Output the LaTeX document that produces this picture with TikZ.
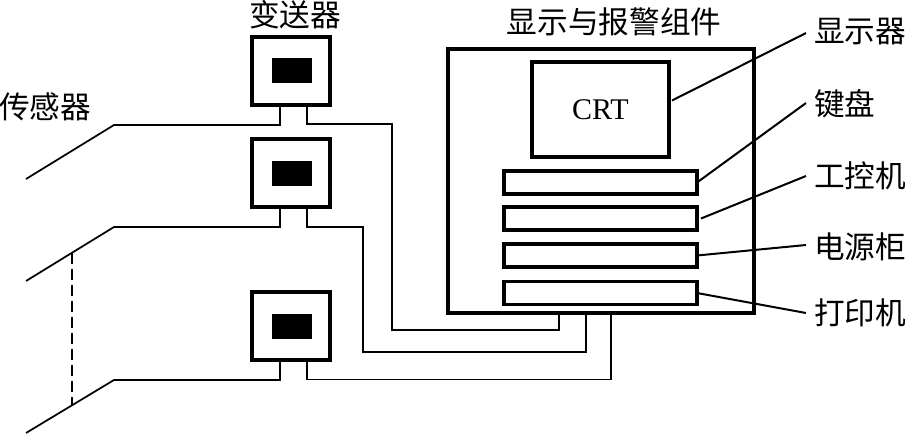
\documentclass[tikz,border=0pt]{standalone}
\usepackage{fontspec}
\setmainfont{Liberation Serif}
\newfontfamily\cjk{Noto Sans CJK SC}
\usetikzlibrary{calc}
\begin{document}
\begin{tikzpicture}[x=0.75pt,y=-0.75pt,
  wire/.style={line width=1.3pt},
  leader/.style={line width=1.5pt},
  txbox/.style={draw,line width=2.8pt,outer sep=0pt,inner sep=0pt,minimum width=58.5pt,minimum height=51pt},
  core/.style={fill=black,outer sep=0pt,inner sep=0pt,minimum width=30pt,minimum height=18.75pt},
  bigbox/.style={draw,line width=2.8pt,outer sep=0pt,inner sep=0pt,minimum width=229.5pt,minimum height=198pt},
  crtbox/.style={draw,line width=2.3pt,outer sep=0pt,inner sep=0pt,minimum width=102.75pt,minimum height=71.25pt,font=\fontsize{22.5}{27}\selectfont},
  bar/.style={draw,line width=2.6pt,outer sep=0pt,inner sep=0pt,minimum width=144.75pt,minimum height=17.25pt},
  lbl/.style={font=\cjk\fontsize{23}{27}\selectfont,inner sep=0pt},
  rlbl/.style={lbl,anchor=west,inner sep=0pt,xshift=6pt}]
\useasboundingbox (0,0) rectangle (906,435);

% transmitters
\node[txbox] (t1) at (291,71) {};
\node[txbox] (t2) at (291,173) {};
\node[txbox] (t3) at (291,326) {};
\node[core] (c1) at (292,71) {};
\node[core] (c2) at (292,173.5) {};
\node[core] (c3) at (292,326.5) {};

% display and alarm assembly
\node[bigbox] (box) at (601,181) {};
\node[crtbox] (crt) at (600.5,109.5) {CRT};
\node[bar] (b1) at (600.5,182.5) {};
\node[bar] (b2) at (600.5,218.5) {};
\node[bar] (b3) at (600.5,255.5) {};
\node[bar] (b4) at (600.5,293) {};

% titles
\node[lbl] (ttx) at (295,15) {变送器};
\node[lbl] (tbox) at (614,22) {显示与报警组件};
\node[lbl] (tsen) at (45,107) {传感器};

% right labels
\node[rlbl] (l1) at (806,32) {显示器};
\node[rlbl] (l2) at (806,104) {键盘};
\node[rlbl] (l3) at (806,176) {工控机};
\node[rlbl] (l4) at (806,247) {电源柜};
\node[rlbl] (l5) at (806,313) {打印机};

\draw[leader] ($(crt.east)+(3,-9)$) -- ($(l1.west)+(-8,1)$);
\draw[leader] (b1.east) -- ($(l2.west)+(-8,-1)$);
\draw[leader] ($(b2.east)+(4,0)$) -- ($(l3.west)+(-8,0)$);
\draw[leader] (b3.east) -- ($(l4.west)+(-8,-2)$);
\draw[leader] (b4.east) -- ($(l5.west)+(-8,0)$);

% sensor lines
\coordinate (s1a) at (114,125); \coordinate (s1b) at (26,179);
\coordinate (s2a) at (114,227); \coordinate (s2b) at (26,281);
\coordinate (s3a) at (114,380); \coordinate (s3b) at (26,433);

% wires of transmitter 1
\draw[wire] ($(t1.south)+(-11,0)$) |- (s1a) -- (s1b);
\draw[wire] ($(t1.south)+(16,0)$) -- ++(0,19) -| (392,330) -| ($(box.south)+(-42,0)$);
% wires of transmitter 2
\draw[wire] ($(t2.south)+(-11,0)$) |- (s2a) -- (s2b);
\draw[wire] ($(t2.south)+(16,0)$) -- ++(0,20) -| (363,352) -| ($(box.south)+(-15,0)$);
% wires of transmitter 3
\draw[wire] ($(t3.south)+(-11,0)$) |- (s3a) -- (s3b);
\draw[wire] ($(t3.south)+(16,0)$) -- ++(0,19.5) -| ($(box.south)+(10,0)$);

% dashed link
\draw[line width=1.5pt,dash pattern=on 8pt off 4pt] ($(s2b)!0.52!(s2a)$) -- ($(s3b)!0.52!(s3a)$);
\end{tikzpicture}
\end{document}
